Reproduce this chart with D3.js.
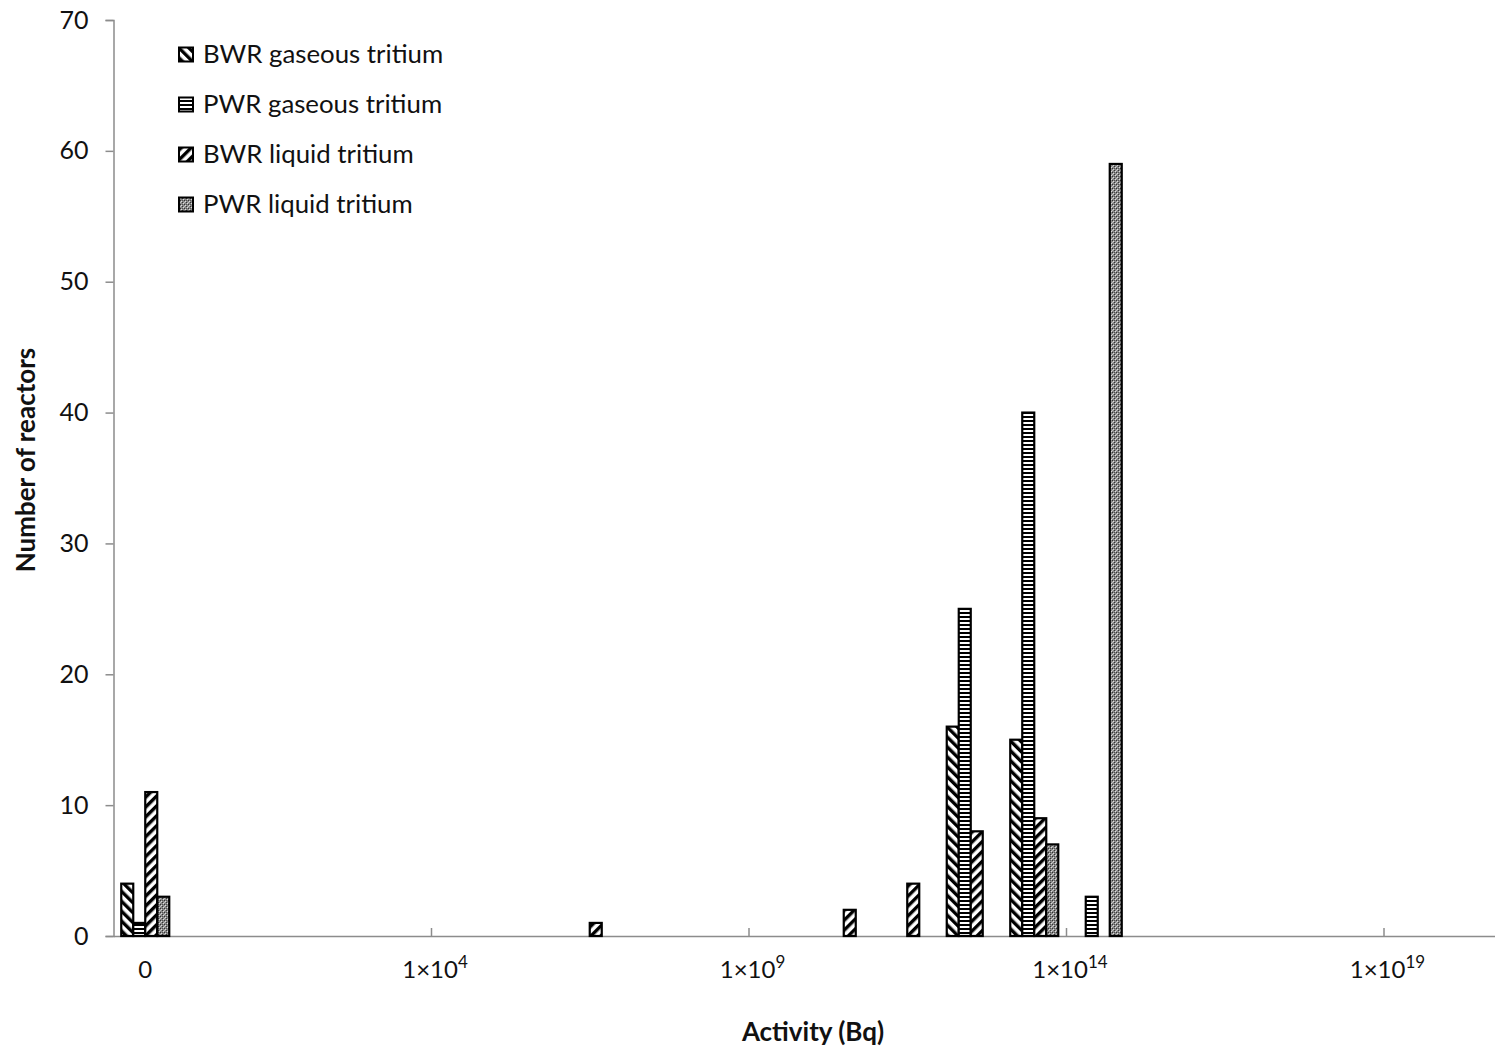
<!DOCTYPE html>
<html>
<head>
<meta charset="utf-8">
<script src="https://cdn.jsdelivr.net/npm/d3@7"></script>
<style>
  html, body { margin: 0; padding: 0; background: #fff; }
  svg { display: block; font-family: Lato, "Open Sans", sans-serif; }
</style>
</head>
<body>
<svg id="chart" width="1495" height="1051"></svg>
<script>
// ---- data ----
const seriesNames = ["BWR gaseous tritium", "PWR gaseous tritium", "BWR liquid tritium", "PWR liquid tritium"];
// each bin spans one decade [10^e, 10^(e+1)); the "0" bin is drawn in the first decade of the axis
const binLabels = ["0", "1e6–1e7", "1e10–1e11", "1e11–1e12", "1e12–1e13", "1e13–1e14", "1e14–1e15"];
const binLowExp = [-1, 6, 10, 11, 12, 13, 14];
const bwrGas = [4, 0, 0, 0, 16, 15, 0];
const pwrGas = [1, 0, 0, 0, 25, 40, 3];
const bwrLiq = [11, 1, 2, 4, 8, 9, 0];
const pwrLiq = [3, 0, 0, 0, 0, 7, 59];
const xTickValues = [1e4, 1e9, 1e14, 1e19];
const xTickExponents = ["4", "9", "14", "19"];
const yTickValues = [0, 10, 20, 30, 40, 50, 60, 70];

const seriesValues = [bwrGas, pwrGas, bwrLiq, pwrLiq];
const patternIds = ["pBwrGas", "pPwrGas", "pBwrLiq", "pPwrLiq"];

// ---- layout ----
const svg = d3.select("#chart");
const plotLeft = 113.5, plotBottom = 936, plotTop = 20;
const x = d3.scaleLog().domain([1e-1, 1e21]).range([plotLeft, plotLeft + 22 * 63.5]);
const y = d3.scaleLinear().domain([0, 70]).range([plotBottom, plotTop]);

// ---- patterns ----
const defs = svg.append("defs");
function stripe(id, angle, period, lineW) {
  const p = defs.append("pattern").attr("id", id).attr("patternUnits", "userSpaceOnUse")
    .attr("width", period).attr("height", period)
    .attr("patternTransform", `rotate(${angle})`);
  p.append("rect").attr("width", period).attr("height", period).attr("fill", "#fff");
  p.append("rect").attr("width", lineW).attr("height", period).attr("fill", "#000");
}
stripe("pBwrGas", -45, 7, 3.4);
stripe("pBwrLiq", 45, 7, 3.4);
{
  const p = defs.append("pattern").attr("id", "pPwrGas").attr("patternUnits", "userSpaceOnUse")
    .attr("width", 4).attr("height", 4);
  p.append("rect").attr("width", 4).attr("height", 4).attr("fill", "#fff");
  p.append("rect").attr("width", 4).attr("height", 2).attr("fill", "#000");
}
{
  const p = defs.append("pattern").attr("id", "pPwrLiq").attr("patternUnits", "userSpaceOnUse")
    .attr("width", 4).attr("height", 4);
  p.append("rect").attr("width", 4).attr("height", 4).attr("fill", "#8a8a8a");
  p.append("rect").attr("x", 0).attr("y", 0).attr("width", 1).attr("height", 1).attr("fill", "#333");
  p.append("rect").attr("x", 2).attr("y", 2).attr("width", 1).attr("height", 1).attr("fill", "#333");
  p.append("rect").attr("x", 1).attr("y", 1).attr("width", 1).attr("height", 1).attr("fill", "#ddd");
  p.append("rect").attr("x", 3).attr("y", 3).attr("width", 1).attr("height", 1).attr("fill", "#ddd");
  p.append("rect").attr("x", 2).attr("y", 0).attr("width", 1).attr("height", 1).attr("fill", "#555");
  p.append("rect").attr("x", 0).attr("y", 2).attr("width", 1).attr("height", 1).attr("fill", "#bbb");
}

// ---- axes ----
const axisColor = "#8c8c8c";
const yAxis = svg.append("g").attr("transform", `translate(${plotLeft},0)`)
  .call(d3.axisLeft(y).tickValues(yTickValues).tickSize(8).tickPadding(17));
yAxis.select(".domain").attr("stroke", axisColor).attr("stroke-width", 1.5);
yAxis.selectAll(".tick line").attr("stroke", axisColor).attr("stroke-width", 1.5);
yAxis.selectAll(".tick text").attr("font-size", 25).attr("fill", "#111").attr("font-family", "Lato, sans-serif");

const xAxis = svg.append("g").attr("transform", `translate(0,${plotBottom})`)
  .call(d3.axisBottom(x).tickValues(xTickValues).tickSizeInner(-8).tickSizeOuter(0).tickFormat(""));
xAxis.select(".domain").attr("stroke", axisColor).attr("stroke-width", 1.5);
xAxis.selectAll(".tick line").attr("stroke", axisColor).attr("stroke-width", 1.5);

// x tick labels
const xl = svg.append("g").attr("font-size", 24).attr("fill", "#111");
xTickValues.forEach((v, i) => {
  const t = xl.append("text").attr("x", x(v) + 4).attr("y", 978).attr("text-anchor", "middle");
  t.append("tspan").text("1×10");
  t.append("tspan").attr("font-size", 17).attr("dy", -10).text(xTickExponents[i]);
});
xl.append("text").attr("x", x(Math.pow(10, -0.5))).attr("y", 978).attr("text-anchor", "middle").text("0");

// ---- bars ----
const decadeW = x(10) - x(1);
const inner = d3.scaleBand().domain(d3.range(seriesNames.length))
  .range([-decadeW * 0.378, decadeW * 0.378]).padding(0);
const barsG = svg.append("g");
binLowExp.forEach((e, bi) => {
  const cx = x(Math.pow(10, e + 0.5));
  seriesValues.forEach((vals, si) => {
    const v = vals[bi];
    if (!v) return;
    barsG.append("rect")
      .attr("x", cx + inner(si))
      .attr("y", y(v))
      .attr("width", inner.bandwidth())
      .attr("height", y(0) - y(v))
      .attr("fill", `url(#${patternIds[si]})`)
      .attr("stroke", "#000")
      .attr("stroke-width", 2.2);
  });
});

// ---- legend ----
const lg = svg.append("g");
seriesNames.forEach((name, i) => {
  const yy = 63 + i * 50;
  lg.append("rect").attr("x", 179).attr("y", yy - 15.5).attr("width", 14).attr("height", 14)
    .attr("fill", `url(#${patternIds[i]})`).attr("stroke", "#000").attr("stroke-width", 2);
  lg.append("text").attr("x", 203).attr("y", yy).attr("font-size", 25.8).attr("fill", "#111").text(name);
});

// ---- titles ----
svg.append("text").attr("transform", "translate(35,460) rotate(-90)")
  .attr("text-anchor", "middle").attr("font-size", 26).attr("font-weight", "bold").attr("fill", "#111")
  .text("Number of reactors");
svg.append("text").attr("x", 813).attr("y", 1041)
  .attr("text-anchor", "middle").attr("font-size", 26).attr("font-weight", "bold").attr("fill", "#111")
  .text("Activity (Bq)");
</script>
</body>
</html>
